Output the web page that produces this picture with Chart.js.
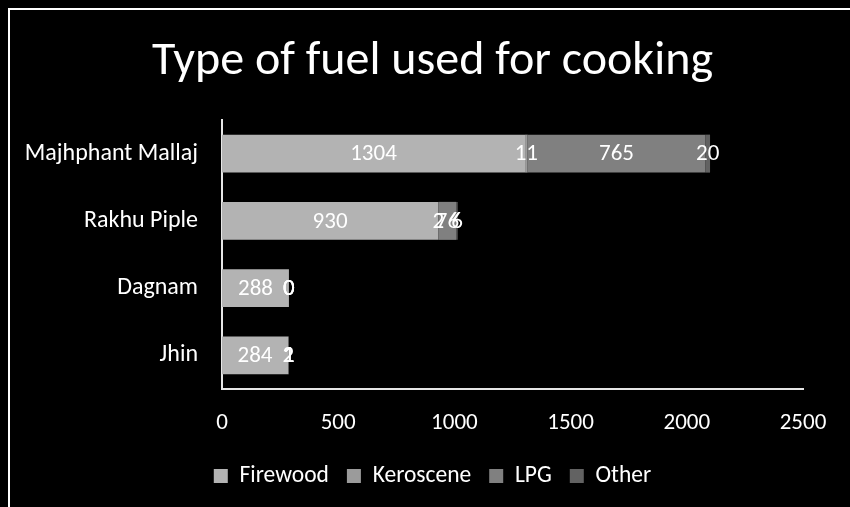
<!DOCTYPE html>
<html>
<head>
<meta charset="utf-8">
<title>Type of fuel used for cooking</title>
<script src="https://cdn.jsdelivr.net/npm/chart.js@4/dist/chart.umd.min.js"></script>
<style>
  html, body { margin: 0; padding: 0; background: #000; }
  #wrap { width: 850px; height: 507px; position: relative; }
</style>
</head>
<body>
<div id="wrap"><canvas id="chart" width="850" height="507"></canvas></div>
<script>
// Households by main cooking fuel, per village
const villages = ['Majhphant Mallaj', 'Rakhu Piple', 'Dagnam', 'Jhin'];
const firewood = [1304, 930, 288, 284];
const kerosene = [11, 2, 0, 2];
const lpg = [765, 76, 0, 1];
const other = [20, 6, 0, 1];
const xTicks = [0, 500, 1000, 1500, 2000, 2500];

const FONT = "Carlito, 'Liberation Sans Narrow', 'Arial Narrow', 'DejaVu Sans Condensed', sans-serif";

// Black background with the white frame line along the top and left
const framePlugin = {
  id: 'frame',
  beforeDraw(chart) {
    const ctx = chart.ctx;
    ctx.save();
    ctx.fillStyle = '#000';
    ctx.fillRect(0, 0, chart.width, chart.height);
    ctx.strokeStyle = '#ffffff';
    ctx.lineWidth = 2;
    ctx.strokeRect(9, 9, chart.width + 40, chart.height + 40);
    ctx.restore();
  }
};

// Value labels centred on every stacked segment
const valueLabels = {
  id: 'valueLabels',
  afterDatasetsDraw(chart) {
    const ctx = chart.ctx;
    ctx.save();
    ctx.fillStyle = '#ffffff';
    ctx.font = '23px ' + FONT;
    ctx.textAlign = 'center';
    ctx.textBaseline = 'middle';
    chart.data.datasets.forEach((ds, di) => {
      const meta = chart.getDatasetMeta(di);
      meta.data.forEach((bar, i) => {
        const v = ds.data[i];
        const p = bar.getProps(['x', 'y', 'base'], true);
        const cx = (p.x + p.base) / 2;
        ctx.fillText(String(v), cx, p.y + 1);
      });
    });
    ctx.restore();
  }
};

const chart = new Chart(document.getElementById('chart'), {
  type: 'bar',
  data: {
    labels: villages,
    datasets: [
      { label: 'Firewood', data: firewood, backgroundColor: '#b3b3b3' },
      { label: 'Keroscene', data: kerosene, backgroundColor: '#9b9b9b' },
      { label: 'LPG', data: lpg, backgroundColor: '#808080' },
      { label: 'Other', data: other, backgroundColor: '#626262' }
    ]
  },
  options: {
    indexAxis: 'y',
    responsive: false,
    animation: false,
    devicePixelRatio: 1,
    datasets: { bar: { categoryPercentage: 1, barPercentage: 0.565, borderWidth: 0 } },
    layout: { padding: { left: 15, right: 0, top: 0, bottom: 9.25 } },
    plugins: {
      title: {
        display: true,
        text: 'Type of fuel used for cooking',
        color: '#ffffff',
        font: { family: FONT, size: 48, weight: 'normal', lineHeight: 1.2 },
        padding: { top: 33, bottom: 29.4 }
      },
      legend: {
        position: 'bottom',
        labels: {
          color: '#ffffff',
          font: { family: FONT, size: 23.5 },
          boxWidth: 14,
          boxHeight: 14,
          padding: 18,
          useBorderRadius: false
        }
      },
      tooltip: { enabled: false }
    },
    scales: {
      x: {
        stacked: true,
        min: 0,
        max: 2500,
        afterBuildTicks(scale) { scale.ticks = xTicks.map(v => ({ value: v })); },
        afterFit(scale) {
          scale.height = 57.25;
          scale.paddingLeft = 0;
          scale.paddingRight = 47;
        },
        grid: { display: false, drawTicks: false },
        border: { display: true, color: '#e6e6e6', width: 2 },
        ticks: {
          color: '#ffffff',
          font: { family: FONT, size: 23 },
          padding: 20,
          maxRotation: 0,
          callback: v => String(v)
        }
      },
      y: {
        stacked: true,
        afterFit(scale) { scale.width = 207; },
        grid: { display: false, drawTicks: false },
        border: { display: true, color: '#e6e6e6', width: 2 },
        ticks: { color: '#ffffff', font: { family: FONT, size: 24 }, padding: 24 }
      }
    }
  },
  plugins: [framePlugin, valueLabels]
});
</script>
</body>
</html>
